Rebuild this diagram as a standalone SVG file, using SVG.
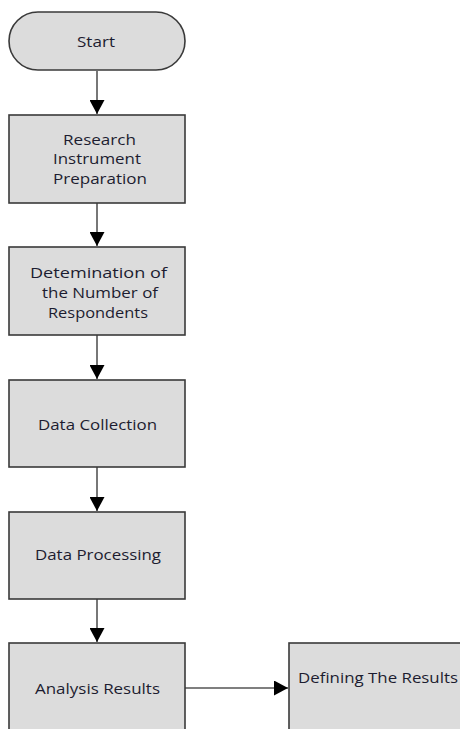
<svg xmlns="http://www.w3.org/2000/svg" width="460" height="729" viewBox="0 0 460 729">
<style>
.box{fill:#dcdcdc;stroke:#3a3a3a;stroke-width:1.6}
.lbl{font-family:"Open Sans","Liberation Sans",sans-serif;font-size:15px;fill:#1c1c30;text-anchor:middle}
.conn{stroke:#555;stroke-width:1.6;fill:none;marker-end:url(#ah)}
</style>
<defs>
<marker id="ah" markerUnits="userSpaceOnUse" markerWidth="15" markerHeight="15" viewBox="0 0 14 15" refX="14" refY="7.5" orient="auto">
<path d="M0,0 L14,7.5 L0,15 z" fill="#000"/>
</marker>
</defs>
<rect width="460" height="729" fill="#fff"/>
<g id="connectors">
<line class="conn" x1="97" y1="71" x2="97" y2="114"/>
<line class="conn" x1="97" y1="203" x2="97" y2="246"/>
<line class="conn" x1="97" y1="335" x2="97" y2="379"/>
<line class="conn" x1="97" y1="467" x2="97" y2="511"/>
<line class="conn" x1="97" y1="599" x2="97" y2="642"/>
<line class="conn" x1="185" y1="688" x2="288" y2="688"/>
</g>
<g id="start">
<rect class="box" x="9" y="12" width="176" height="58" rx="29" ry="29"/>
<text class="lbl" x="96" y="47" textLength="38" lengthAdjust="spacingAndGlyphs">Start</text>
</g>
<g id="research">
<rect class="box" x="9" y="115" width="176" height="88"/>
<text class="lbl" x="99.5" y="145" textLength="73" lengthAdjust="spacingAndGlyphs">Research</text>
<text class="lbl" x="97" y="164" textLength="88" lengthAdjust="spacingAndGlyphs">Instrument</text>
<text class="lbl" x="100" y="184" textLength="94" lengthAdjust="spacingAndGlyphs">Preparation</text>
</g>
<g id="determination">
<rect class="box" x="9" y="247" width="176" height="88"/>
<text class="lbl" x="98.5" y="278" textLength="137" lengthAdjust="spacingAndGlyphs">Detemination of</text>
<text class="lbl" x="100" y="298" textLength="116" lengthAdjust="spacingAndGlyphs">the Number of</text>
<text class="lbl" x="98" y="318" textLength="100" lengthAdjust="spacingAndGlyphs">Respondents</text>
</g>
<g id="collection">
<rect class="box" x="9" y="380" width="176" height="87"/>
<text class="lbl" x="97.5" y="430" textLength="119" lengthAdjust="spacingAndGlyphs">Data Collection</text>
</g>
<g id="processing">
<rect class="box" x="9" y="512" width="176" height="87"/>
<text class="lbl" x="98" y="560" textLength="126" lengthAdjust="spacingAndGlyphs">Data Processing</text>
</g>
<g id="analysis">
<rect class="box" x="9" y="643" width="176" height="100"/>
<text class="lbl" x="97.5" y="694" textLength="125" lengthAdjust="spacingAndGlyphs">Analysis Results</text>
</g>
<g id="defining">
<rect class="box" x="289" y="643" width="190" height="100"/>
<text class="lbl" x="298" y="683" style="text-anchor:start" textLength="160" lengthAdjust="spacingAndGlyphs">Defining The Results</text>
</g>
</svg>
